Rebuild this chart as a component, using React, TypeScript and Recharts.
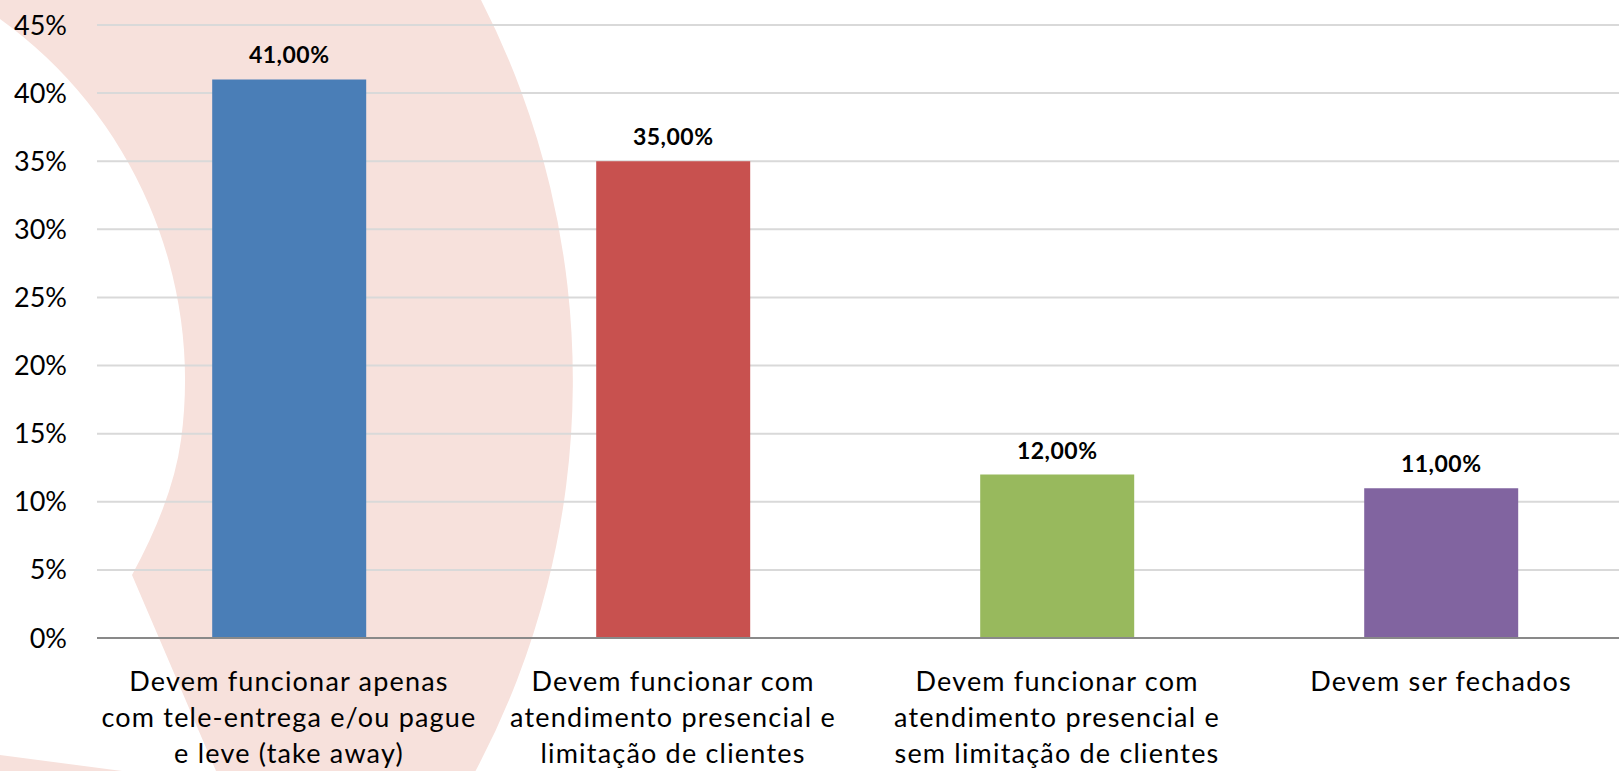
import React from 'react';
import { BarChart, Bar, XAxis, YAxis, CartesianGrid, Cell, LabelList } from 'recharts';

const CATEGORIES = [
  'Devem funcionar apenas\ncom tele-entrega e/ou pague\ne leve (take away)',
  'Devem funcionar com\natendimento presencial e\nlimitação de clientes',
  'Devem funcionar com\natendimento presencial e\nsem limitação de clientes',
  'Devem ser fechados',
];
const VALUES = [41, 35, 12, 11];
const BAR_COLORS = ['#4A7EB7', '#C8514F', '#98B95D', '#8164A0'];
const Y_TICKS = [0, 5, 10, 15, 20, 25, 30, 35, 40, 45];

const FONT = 'Lato, "Open Sans", sans-serif';

const chartData = CATEGORIES.map((name, i) => ({ name, value: VALUES[i] }));

function fmtPct(v: number) {
  return `${v.toFixed(2).replace('.', ',')}%`;
}

// rótulos do eixo X em várias linhas
function CategoryTick(props: any) {
  const { x, y, payload } = props;
  const lines = String(payload.value).split('\n');
  return (
    <text
      x={x}
      y={y}
      textAnchor="middle"
      fill="#000"
      fontSize={27}
      fontFamily={FONT}
      style={{ letterSpacing: 1.2 }}
    >
      {lines.map((ln, i) => (
        <tspan key={i} x={x} dy={i === 0 ? 53 : 36}>
          {ln}
        </tspan>
      ))}
    </text>
  );
}

export default function App() {
  return (
    <div
      style={{
        position: 'absolute',
        left: 0,
        top: 0,
        width: 1619,
        height: 771,
        overflow: 'hidden',
        background: '#fff',
        fontFamily: FONT,
      }}
    >
      {/* fundo decorativo rosa */}
      <svg width={1619} height={771} style={{ position: 'absolute', left: 0, top: 0 }}>
        <path
          d="M 481 0 A 833 833 0 0 1 475.5 771 L 216 771 L 132 575 Q 172.9 500 181 440 A 445 445 0 0 0 0 19 L 0 0 Z"
          fill="#F7E1DC"
        />
        <path d="M 0 755 L 122 771 L 0 771 Z" fill="#F7E1DC" />
      </svg>
      <div style={{ position: 'absolute', left: 0, top: 0 }}>
        <BarChart
          width={1633}
          height={771}
          data={chartData}
          margin={{ top: 25, right: 0, left: 0, bottom: 0 }}
          barCategoryGap="30%"
        >
          <CartesianGrid vertical={false} stroke="#D9D9D9" strokeWidth={2} />
          <XAxis
            dataKey="name"
            interval={0}
            height={133}
            tickLine={false}
            tickSize={0}
            tickMargin={0}
            axisLine={{ stroke: '#898989', strokeWidth: 2 }}
            tick={<CategoryTick />}
          />
          <YAxis
            width={97}
            domain={[0, 45]}
            ticks={Y_TICKS}
            tickFormatter={(v) => `${v}%`}
            axisLine={false}
            tickLine={false}
            tickSize={0}
            tickMargin={30}
            tick={{ fontSize: 27, fill: '#000', fontFamily: FONT }}
          />
          <Bar dataKey="value" isAnimationActive={false}>
            {chartData.map((d, i) => (
              <Cell key={`c-${i}`} fill={BAR_COLORS[i]} />
            ))}
            <LabelList
              dataKey="value"
              position="top"
              offset={16}
              formatter={(v: any) => fmtPct(Number(v))}
              style={{ fontSize: 23, fontWeight: 700, fill: '#000', fontFamily: FONT, letterSpacing: 0.5 }}
            />
          </Bar>
        </BarChart>
      </div>
    </div>
  );
}
